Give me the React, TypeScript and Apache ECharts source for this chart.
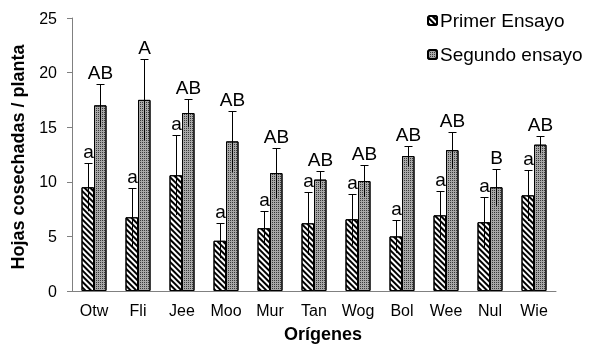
import React, { useEffect, useRef } from "react";
import * as echarts from "echarts";

const categories = ["Otw", "Fli", "Jee", "Moo", "Mur", "Tan", "Wog", "Bol", "Wee", "Nul", "Wie"];
const primer = [9.5, 6.75, 10.6, 4.6, 5.75, 6.2, 6.57, 5.0, 6.93, 6.3, 8.76];
const primerErr = [2.2, 2.65, 3.65, 1.6, 1.55, 2.9, 2.35, 1.5, 2.25, 2.3, 2.35];
const segundo = [17.0, 17.5, 16.3, 13.7, 10.8, 10.2, 10.07, 12.36, 12.9, 9.5, 13.4];
const segundoErr = [2.0, 3.7, 1.3, 2.8, 2.3, 0.8, 1.45, 0.95, 1.7, 1.7, 0.8];
const primerLetters = ["a", "a", "a", "a", "a", "a", "a", "a", "a", "a", "a"];
const segundoLetters = ["AB", "A", "AB", "AB", "AB", "AB", "AB", "AB", "AB", "B", "AB"];

const FONT = "Liberation Sans, Arial, sans-serif";
const BAR_W = 12.5;

function errSeries(values: number[], errs: number[], letters: string[], offset: number) {
  return {
    type: "custom",
    silent: true,
    z: 5,
    data: values.map((v, i) => [i, v, errs[i]]),
    renderItem: (params: any, api: any) => {
      const i = api.value(0);
      const v = api.value(1);
      const e = api.value(2);
      const top = api.coord([i, v + e]);
      const bot = api.coord([i, v - e]);
      const x = Math.round(top[0] + offset) + 0.5;
      const yt = Math.round(top[1]) + 0.5;
      return {
        type: "group",
        children: [
          { type: "line", shape: { x1: x, y1: yt, x2: x, y2: bot[1] }, style: { stroke: "#000", lineWidth: 1 } },
          { type: "line", shape: { x1: x - 4, y1: yt, x2: x + 4, y2: yt }, style: { stroke: "#000", lineWidth: 1 } },
          {
            type: "text",
            x: x,
            y: top[1] - 2,
            style: {
              text: letters[params.dataIndex],
              fill: "#000",
              font: `19px ${FONT}`,
              textAlign: "center",
              textVerticalAlign: "bottom",
            },
          },
        ],
      };
    },
  };
}

export default function App() {
  const ref = useRef<HTMLDivElement>(null);
  useEffect(() => {
    const chart = echarts.init(ref.current!, null, { renderer: "svg" });
    chart.setOption({
      animation: false,
      textStyle: { fontFamily: FONT },
      grid: { left: 72, right: 36, top: 18, bottom: 53 },
      legend: {
        orient: "vertical",
        left: 427,
        top: 11,
        padding: 0,
        itemWidth: 9,
        itemHeight: 9,
        itemGap: 15,
        data: ["Primer Ensayo", "Segundo ensayo"],
        textStyle: { fontSize: 19, color: "#000", fontFamily: FONT, padding: [0, 0, 0, -2] },
      },
      graphic: [
        {
          type: "text",
          x: 323,
          y: 334,
          style: {
            text: "Orígenes",
            font: `bold 18px ${FONT}`,
            fill: "#000",
            textAlign: "center",
            textVerticalAlign: "middle",
          },
        },
        {
          type: "text",
          x: 18,
          y: 157,
          rotation: Math.PI / 2,
          style: {
            text: "Hojas cosechadas / planta",
            font: `bold 18px ${FONT}`,
            fill: "#000",
            textAlign: "center",
            textVerticalAlign: "middle",
          },
        },
      ],
      xAxis: {
        type: "category",
        data: categories,
        axisLine: { lineStyle: { color: "#808080" } },
        axisTick: { length: 5, lineStyle: { color: "#808080" } },
        axisLabel: { fontSize: 16, color: "#000", margin: 11, fontFamily: FONT },
      },
      yAxis: {
        type: "value",
        min: 0,
        max: 25,
        interval: 5,
        splitLine: { show: false },
        axisLine: { show: true, lineStyle: { color: "#808080" } },
        axisTick: { show: true, length: 5, lineStyle: { color: "#808080" } },
        axisLabel: { fontSize: 16, color: "#000", margin: 15, fontFamily: FONT },
      },
      series: [
        {
          name: "Primer Ensayo",
          type: "bar",
          data: primer,
          barWidth: BAR_W,
          barGap: "0%",
          itemStyle: {
            color: "#fff",
            borderColor: "#000",
            borderWidth: 1,
            decal: {
              symbol: "rect",
              color: "#000",
              dashArrayX: [1, 0],
              dashArrayY: [2, 2],
              rotation: Math.PI / 4,
              symbolSize: 1,
            },
          },
        },
        {
          name: "Segundo ensayo",
          type: "bar",
          data: segundo,
          barWidth: BAR_W,
          barGap: "0%",
          itemStyle: {
            color: "#a8a8a8",
            borderColor: "#000",
            borderWidth: 1,
            decal: {
              symbol: "rect",
              color: "#3a3a3a",
              dashArrayX: [1, 1],
              dashArrayY: [1, 1],
              symbolSize: 1,
            },
          },
        },
        errSeries(primer, primerErr, primerLetters, -BAR_W / 2),
        errSeries(segundo, segundoErr, segundoLetters, BAR_W / 2),
      ],
    });
    return () => chart.dispose();
  }, []);
  return <div ref={ref} style={{ position: "fixed", left: 0, top: 0, width: 592, height: 344 }} />;
}
